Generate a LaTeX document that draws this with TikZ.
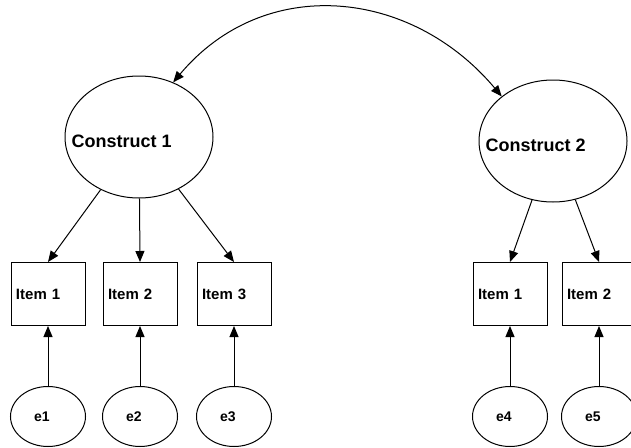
\documentclass[tikz,border=0pt]{standalone}
\usepackage{fontspec}
\setmainfont{Liberation Sans}
\usetikzlibrary{positioning,arrows.meta,shapes.geometric}
\tikzset{
  sem-latent/.style={
    draw, ellipse, line width=1pt, inner sep=0pt,
    minimum width=148pt, minimum height=122pt
  },
  sem-latent-name/.style={
    anchor=west, xshift=7pt, yshift=-4pt, inner sep=0pt,
    font=\fontsize{18}{20}\selectfont\bfseries
  },
  sem-item/.style={
    draw, rectangle, line width=1pt, inner sep=5pt,
    text width=64pt, align=left, minimum height=63pt,
    font=\fontsize{15}{17}\selectfont\bfseries
  },
  sem-error/.style={
    draw, ellipse, line width=1pt, inner sep=0pt,
    minimum width=75pt, minimum height=60pt,
    text width=28pt, align=left,
    font=\fontsize{14}{16}\selectfont\bfseries
  },
  sem-path/.style={-{Triangle[length=11pt,width=9pt]}, line width=1pt},
  sem-cov/.style={{Triangle[length=11pt,width=9pt]}-{Triangle[length=11pt,width=9pt]},
    line width=1pt}
}

\begin{document}
\begin{tikzpicture}[x=1pt, y=1pt, node distance=17pt and 17pt]
\useasboundingbox (0,0) rectangle (631,-447);

% Constructs
\node[sem-latent, label={[sem-latent-name]west:Construct 1}] (c1) at (139,-137) {};
\node[sem-latent, label={[sem-latent-name]west:Construct 2}] (c2) at (553,-141) {};

% Items of construct 1
\node[sem-item] (x12) at (140,-294) {Item 2};
\node[sem-item, left=17pt of x12] (x11) {Item 1};
\node[sem-item, right=19pt of x12] (x13) {Item 3};

% Items of construct 2
\node[sem-item] (x21) at (510,-294) {Item 1};
\node[sem-item, right=14pt of x21] (x22) {Item 2};

% Error terms
\node[sem-error, below=60pt of x11] (e1) {e1};
\node[sem-error, below=60pt of x12] (e2) {e2};
\node[sem-error, below=60pt of x13] (e3) {e3};
\node[sem-error, below=60pt of x21] (e4) {e4};
\node[sem-error, below=60pt of x22] (e5) {e5};

\draw[sem-cov] (c1.58) to[out=50, in=130, looseness=1.1] (c2.139);

\draw[sem-path] (c1) -- (x11.north);
\draw[sem-path] (c1) -- (x12.north);
\draw[sem-path] (c1) -- (x13.north);
\draw[sem-path] (c2) -- (x21.north);
\draw[sem-path] (c2) -- (x22.north);

\draw[sem-path] (e1) -- (x11);
\draw[sem-path] (e2) -- (x12);
\draw[sem-path] (e3) -- (x13);
\draw[sem-path] (e4) -- (x21);
\draw[sem-path] (e5) -- (x22);
\end{tikzpicture}
\end{document}
